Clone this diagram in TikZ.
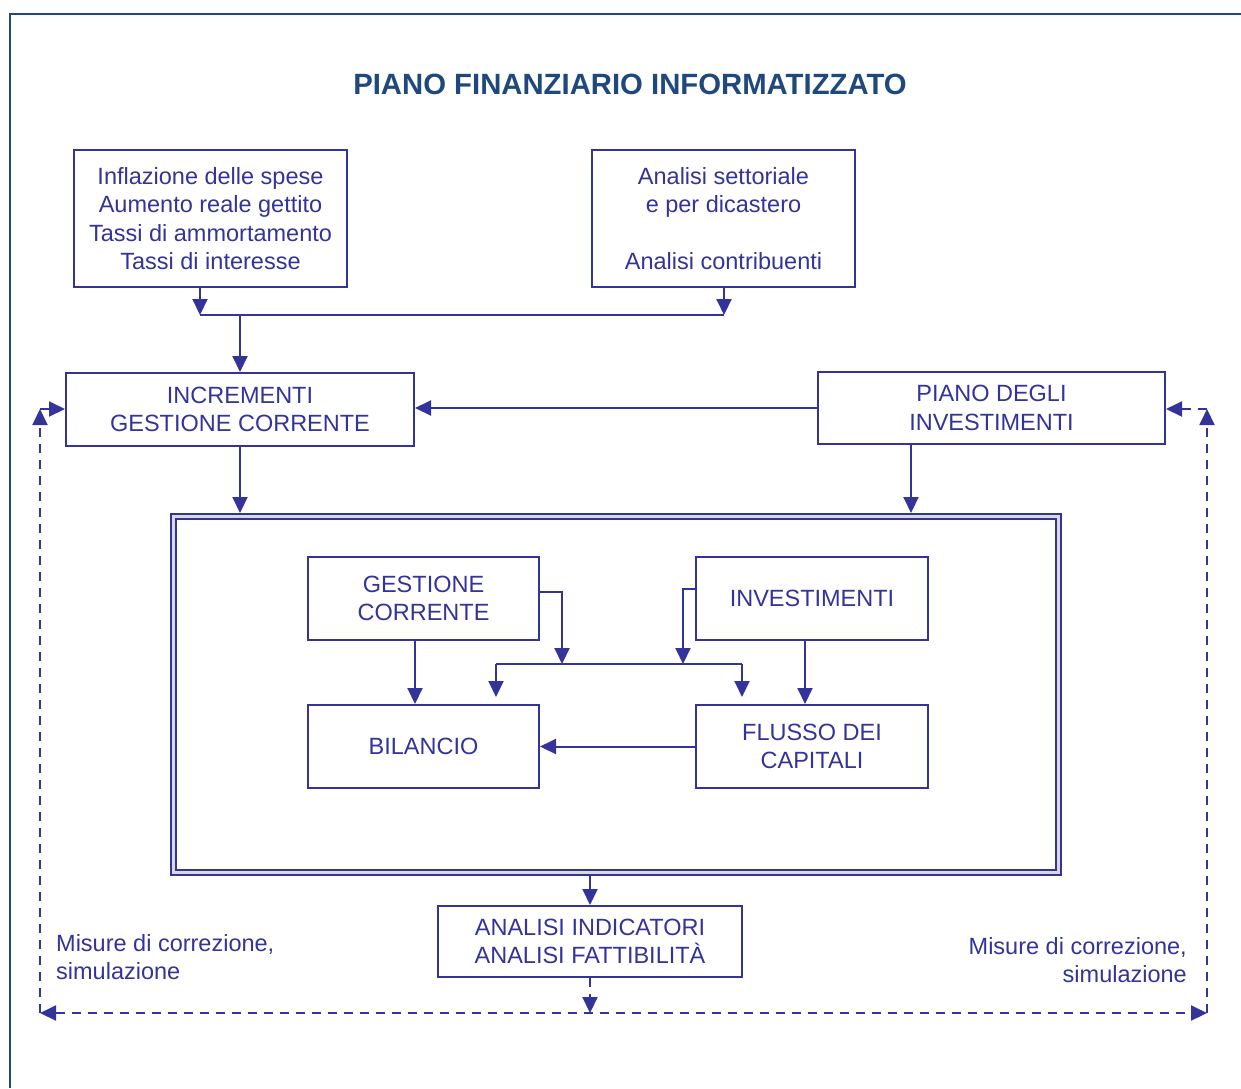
\documentclass[tikz,border=0pt]{standalone}
\usepackage{fontspec}
\setmainfont{Liberation Sans}
\usetikzlibrary{arrows.meta, positioning}
\definecolor{lineblue}{HTML}{333399}
\definecolor{titlenavy}{HTML}{1F497D}

\begin{document}
\begin{tikzpicture}[x=1pt, y=-1pt,
    >={Triangle[length=16pt, width=15pt]},
    box/.style={rectangle, draw=lineblue, line width=2pt, text=lineblue, inner sep=0pt, align=center, font=\fontsize{23.5}{28.5}\selectfont},
    arrow/.style={->, draw=lineblue, line width=2pt},
    link/.style={draw=lineblue, line width=2pt},
    dasharrow/.style={arrow, dash pattern=on 9pt off 7pt},
    note/.style={text=lineblue, inner sep=0pt, font=\fontsize{23.5}{28.5}\selectfont}
  ]
    \useasboundingbox (0,0) rectangle (1241,1088);
    \draw[titlenavy, line width=2.5pt] (9,14) -- (1241,14);
    \draw[titlenavy, line width=2.5pt] (10,14) -- (10,1088);

    \node[font=\bfseries\fontsize{29.3}{34}\selectfont, text=titlenavy] (title) at (630,84) {PIANO FINANZIARIO INFORMATIZZATO};

    \node[box, minimum width=273pt, minimum height=137pt] (infl) at (210.5,218.5) {Inflazione delle spese\\Aumento reale gettito\\Tassi di ammortamento\\Tassi di interesse};
    \node[box, minimum width=263pt, minimum height=137pt] (sett) at (723.5,218.5) {Analisi settoriale\\e per dicastero\\[28.5pt]Analisi contribuenti};
    \node[box, minimum width=348pt, minimum height=73pt] (incr) at (240,409.5) {INCREMENTI\\GESTIONE CORRENTE};
    \node[box, minimum width=347pt, minimum height=72pt] (piano) at (991.5,408) {PIANO DEGLI\\INVESTIMENTI};

    \node[box, double, double distance=3pt, double=black!15, minimum width=885.5pt, minimum height=356pt, outer sep=3.5pt] (core) at (615.75,694.5) {};
    \node[box, minimum width=231pt, minimum height=83pt] (gest) at (423.5,598.5) {GESTIONE\\CORRENTE};
    \node[box, minimum width=231pt, minimum height=83pt, below=63pt of gest] (bil) {BILANCIO};
    \node[box, minimum width=232pt, minimum height=83pt, right=155pt of bil] (flusso) {FLUSSO DEI\\CAPITALI};
    \node[box, minimum width=232pt, minimum height=83pt, above=63pt of flusso] (inv) {INVESTIMENTI};

    \node[box, minimum width=304pt, minimum height=71pt] (fatt) at (590,941.5) {ANALISI INDICATORI\\ANALISI FATTIBILITÀ};
    \node[note, anchor=west, align=left] (misl) at (56,957) {Misure di correzione,\\simulazione};
    \node[note, anchor=east, align=right] (misr) at (1187,960) {Misure di correzione,\\simulazione};

    % bus points
    \coordinate (jl) at (200,315);
    \coordinate (jm) at (240,315);
    \coordinate (jr) at (724,315);
    \coordinate (pd) at (911,449);
    \coordinate (gd) at (415,640);
    \coordinate (id) at (805,640);
    \coordinate (bg) at (562,664);
    \coordinate (bi) at (683,664);
    \coordinate (bl) at (496,664);
    \coordinate (br) at (742,664);
    % feedback loop
    \coordinate (db) at (590,1013);
    \coordinate (dl) at (40,1013);
    \coordinate (dr) at (1207,1013);
    \coordinate (ul) at (40,409);
    \coordinate (ur) at (1207,409);

    \draw[arrow] (infl.south -| jl) -- (jl);
    \draw[arrow] (sett.south -| jr) -- (jr);
    \draw[link] (jl) -- (jr);
    \draw[arrow] (jm) -- (incr.north -| jm);
    \draw[arrow] (piano.west) -- (incr.east |- piano.west);
    \draw[arrow] (incr.south) -- (core.north -| incr.south);
    \draw[arrow] (piano.south -| pd) -- (core.north -| pd);

    \draw[arrow] (gest.south -| gd) -- (bil.north -| gd);
    \draw[arrow] (inv.south -| id) -- (flusso.north -| id);
    \draw[arrow] ([yshift=6.5pt]gest.east) -| (bg);
    \draw[arrow] ([yshift=9.5pt]inv.west) -| (bi);
    \draw[link] (bl) -- (br);
    \draw[arrow, shorten >=7pt] (bl) -- (bil.north -| bl);
    \draw[arrow, shorten >=7pt] (br) -- (flusso.north -| br);
    \draw[arrow] (flusso.west) -- (bil.east);

    \draw[arrow] (core.south -| fatt.north) -- (fatt.north);
    \draw[dasharrow] (fatt.south) -- (db);
    \draw[dasharrow, <->] (dl) -- (dr);
    \draw[dasharrow] (dl) -- (ul);
    \draw[dasharrow] (ul) -- (incr.west |- ul);
    \draw[dasharrow] (dr) -- (ur);
    \draw[dasharrow] (ur) -- (piano.east |- ur);
\end{tikzpicture}
\end{document}
